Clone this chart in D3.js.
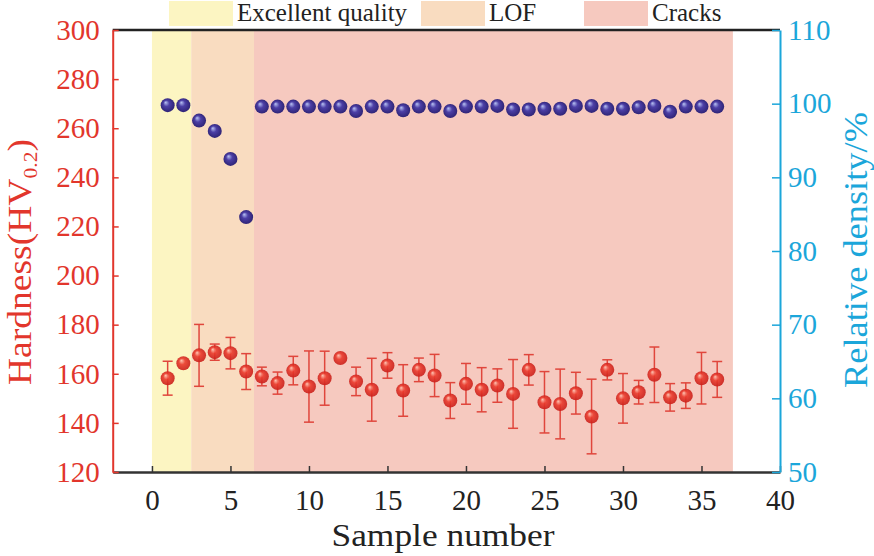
<!DOCTYPE html>
<html>
<head>
<meta charset="utf-8">
<script src="https://cdn.jsdelivr.net/npm/d3@7"></script>
<style>
    body { margin: 0; background: #fff; }
    svg text { font-family: "Liberation Serif", "Times New Roman", serif; }
</style>
</head>
<body>
<div id="chart"></div>
<script>
// sample numbers along x
const samples = [1, 2, 3, 4, 5, 6, 7, 8, 9, 10, 11, 12, 13, 14, 15, 16, 17, 18,
    19, 20, 21, 22, 23, 24, 25, 26, 27, 28, 29, 30, 31, 32, 33, 34, 35, 36];

// hardness HV0.2 (left axis) and its error
const hardness = [158.2, 164.3, 167.5, 168.8, 168.4, 160.9, 158.9, 156.2, 161.3, 154.8,
    158.2, 166.4, 156.9, 153.5, 163.4, 153.2, 161.6, 159.3, 149.1, 155.9,
    153.5, 155.2, 151.8, 161.6, 148.4, 147.7, 152.1, 142.6, 161.6, 150.0,
    152.5, 159.6, 150.4, 151.1, 158.2, 157.7];
const hardnessErr = [6.9, 0, 12.6, 3.3, 6.4, 7.3, 3.8, 4.5, 5.8, 14.5,
    11.0, 0, 5.8, 12.8, 5.2, 10.5, 4.8, 8.6, 7.3, 8.3,
    9.0, 6.8, 14.0, 6.2, 12.5, 14.2, 8.5, 15.2, 4.1, 10.1,
    4.8, 11.3, 5.6, 5.2, 10.5, 7.3];

// relative density % (right axis)
const density = [99.8, 99.8, 97.7, 96.3, 92.5, 84.6, 99.6, 99.6, 99.6, 99.6,
    99.6, 99.6, 99.0, 99.6, 99.6, 99.1, 99.6, 99.6, 99.0, 99.6,
    99.6, 99.7, 99.2, 99.2, 99.3, 99.3, 99.7, 99.7, 99.3, 99.3,
    99.5, 99.7, 98.9, 99.6, 99.6, 99.6];

// shaded regions
const bandNames = ["Excellent quality", "LOF", "Cracks"];
const bandFrom = [0, 2.5, 6.5];
const bandTo = [2.5, 6.5, 37];
const bandColors = ["#fcf5c2", "#f9dcc0", "#f6c9bf"];

// ticks
const xTicks = [0, 5, 10, 15, 20, 25, 30, 35, 40];
const leftTicks = [120, 140, 160, 180, 200, 220, 240, 260, 280, 300];
const rightTicks = [50, 60, 70, 80, 90, 100, 110];

const W = 874, H = 556;
const pLeft = 112.7, pRight = 780, pTop = 30, pBottom = 472;

const RED = "#e2362c";
const CYAN = "#1ba6da";

var svg = d3.select("#chart").append("svg").attr("width", W).attr("height", H);

var x = d3.scaleLinear().domain([-2.5, 40]).range([pLeft, pRight]);
var yL = d3.scaleLinear().domain([120, 300]).range([pBottom, pTop]);
var yR = d3.scaleLinear().domain([50, 110]).range([pBottom, pTop]);

// gradients for the ball markers
var defs = svg.append("defs");
function ball(id, light, mid, dark) {
    var g = defs.append("radialGradient").attr("id", id)
        .attr("cx", "50%").attr("cy", "50%").attr("r", "55%")
        .attr("fx", "35%").attr("fy", "30%");
    g.append("stop").attr("offset", "0%").attr("stop-color", light);
    g.append("stop").attr("offset", "40%").attr("stop-color", mid);
    g.append("stop").attr("offset", "100%").attr("stop-color", dark);
}
ball("redBall", "#ffc2b0", "#ea3a2c", "#c41c18");
ball("blueBall", "#b9c4f4", "#4c3fa6", "#2b2070");

// background bands
svg.append("g").selectAll("rect")
    .data(bandNames)
    .join("rect")
    .attr("x", (d, i) => x(bandFrom[i]))
    .attr("width", (d, i) => x(bandTo[i]) - x(bandFrom[i]))
    .attr("y", pTop)
    .attr("height", pBottom - pTop)
    .attr("fill", (d, i) => bandColors[i]);

// legend on top
var legX = [169, 421, 584];
var leg = svg.append("g");
bandNames.forEach(function (name, i) {
    leg.append("rect").attr("x", legX[i]).attr("y", 1).attr("width", 64).attr("height", 25)
        .attr("fill", bandColors[i]);
    leg.append("text").attr("x", legX[i] + 68).attr("y", 21)
        .attr("font-size", 25).attr("fill", "#222").text(name);
});

// axes
var xAxis = svg.append("g").attr("transform", `translate(0,${pBottom})`)
    .call(d3.axisBottom(x).tickValues(xTicks).tickSizeInner(-6).tickSizeOuter(0).tickPadding(17));
xAxis.select(".domain").attr("stroke", "#333").attr("stroke-width", 2.5);
xAxis.selectAll(".tick line").attr("stroke", "#333").attr("stroke-width", 1.5);
xAxis.selectAll("text").attr("font-size", 29).attr("fill", "#222");

svg.append("line").attr("x1", pLeft).attr("x2", pRight).attr("y1", pTop).attr("y2", pTop)
    .attr("stroke", "#222").attr("stroke-width", 2.5);

var lAxis = svg.append("g").attr("transform", `translate(${pLeft},0)`)
    .call(d3.axisLeft(yL).tickValues(leftTicks).tickSizeInner(-6).tickSizeOuter(0).tickPadding(13));
lAxis.select(".domain").attr("stroke", RED).attr("stroke-width", 2);
lAxis.selectAll(".tick line").attr("stroke", RED).attr("stroke-width", 1.5);
lAxis.selectAll("text").attr("font-size", 29).attr("fill", RED);

var rAxis = svg.append("g").attr("transform", `translate(${pRight},0)`)
    .call(d3.axisRight(yR).tickValues(rightTicks).tickSizeInner(-8).tickSizeOuter(0).tickPadding(8));
rAxis.select(".domain").attr("stroke", CYAN).attr("stroke-width", 2);
rAxis.selectAll(".tick line").attr("stroke", CYAN).attr("stroke-width", 1.5);
rAxis.selectAll("text").attr("font-size", 29).attr("fill", CYAN);

// axis titles
svg.append("text")
    .attr("x", 443).attr("y", 546)
    .attr("text-anchor", "middle").attr("font-size", 32).attr("fill", "#222")
    .attr("textLength", 223).attr("lengthAdjust", "spacingAndGlyphs")
    .text("Sample number");

var lt = svg.append("text")
    .attr("transform", "translate(31,262) rotate(-90)")
    .attr("text-anchor", "middle").attr("font-size", 33).attr("fill", RED)
    .attr("textLength", 246).attr("lengthAdjust", "spacingAndGlyphs");
lt.append("tspan").text("Hardness(HV");
lt.append("tspan").attr("font-size", 19).attr("dy", 6).text("0.2");
lt.append("tspan").attr("dy", -6).text(")");

svg.append("text")
    .attr("transform", "translate(867,250) rotate(-90)")
    .attr("text-anchor", "middle").attr("font-size", 33).attr("fill", CYAN)
    .attr("textLength", 276).attr("lengthAdjust", "spacingAndGlyphs")
    .text("Relative density/%");

// hardness error bars
var eb = svg.append("g").attr("stroke", "#e0463c").attr("stroke-width", 1.5).attr("fill", "none");
samples.forEach(function (s, i) {
    if (!hardnessErr[i]) return;
    var cx = x(s), y1 = yL(hardness[i] + hardnessErr[i]), y2 = yL(hardness[i] - hardnessErr[i]);
    eb.append("line").attr("x1", cx).attr("x2", cx).attr("y1", y1).attr("y2", y2);
    eb.append("line").attr("x1", cx - 5).attr("x2", cx + 5).attr("y1", y1).attr("y2", y1);
    eb.append("line").attr("x1", cx - 5).attr("x2", cx + 5).attr("y1", y2).attr("y2", y2);
});

// hardness points
svg.append("g").selectAll("circle")
    .data(samples)
    .join("circle")
    .attr("cx", d => x(d))
    .attr("cy", (d, i) => yL(hardness[i]))
    .attr("r", 7)
    .attr("fill", "url(#redBall)")
    .attr("fill-opacity", 0.9);

// density points
svg.append("g").selectAll("circle")
    .data(samples)
    .join("circle")
    .attr("cx", d => x(d))
    .attr("cy", (d, i) => yR(density[i]))
    .attr("r", 7)
    .attr("fill", "url(#blueBall)");
</script>
</body>
</html>
